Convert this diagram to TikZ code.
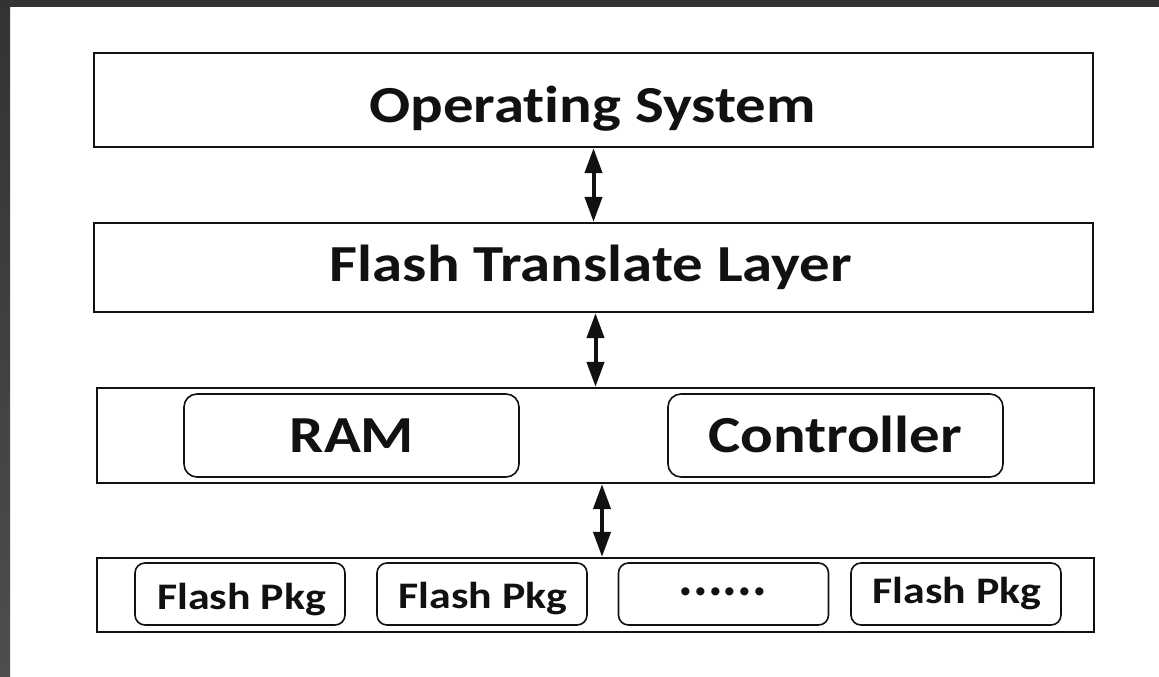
\documentclass[tikz,border=0pt]{standalone}
\usepackage{fontspec}
\setmainfont{Carlito}[Ligatures=NoCommon]
\newfontfamily\widefont{Carlito}[Ligatures=NoCommon, FakeStretch=1.17]
\usetikzlibrary{arrows.meta}
\definecolor{frame}{HTML}{333333}
\definecolor{framelow}{HTML}{4E4E4E}
\definecolor{ink}{HTML}{111111}
\begin{document}
\begin{tikzpicture}[x=1bp,y=-1bp,
  layer/.style={draw=ink, line width=2.2bp, inner sep=0pt},
  part/.style={draw=ink, line width=1.6bp, rounded corners=13bp, inner sep=0pt, minimum width=335bp, minimum height=83bp},
  pkg/.style={draw=ink, line width=1.6bp, rounded corners=10bp, inner sep=0pt, minimum width=210bp, minimum height=62bp},
  big/.style={font=\widefont\bfseries\fontsize{52bp}{60bp}\selectfont, anchor=base, inner sep=0pt, text=ink},
  small/.style={font=\widefont\bfseries\fontsize{37.5bp}{44bp}\selectfont, anchor=base, inner sep=0pt, text=ink},
  dots/.style={font=\bfseries\fontsize{55bp}{60bp}\selectfont, anchor=base, inner sep=0pt, text=ink},
  link/.style={draw=ink, line width=4bp, {Triangle[length=25bp,width=17bp]}-{Triangle[length=25bp,width=17bp]}}
]
\useasboundingbox (0,0) rectangle (1159,677);
\fill[white] (0,0) rectangle (1159,677);
\shade[top color=frame, bottom color=framelow] (0,0) rectangle (10,677);
\fill[frame] (0,0) rectangle (1159,7);

% layers
\node[layer, minimum width=999bp, minimum height=94bp] (os) at (593.5,100) {};
\node[big] (ost) at (592.5,123) {Operating System};

\node[layer, minimum width=999bp, minimum height=89bp] (ftl) at (593.5,267.5) {};
\node[big] (ftlt) at (591,281) {Flash Translate Layer};

\node[layer, minimum width=997bp, minimum height=95bp] (mid) at (595.5,435.5) {};
\node[part] (ram) at (351.5,435.5) {};
\node[big] (ramt) at (352,452) {RAM};
\node[part] (ctl) at (835.5,435.5) {};
\node[big] (ctlt) at (835,452) {Controller};

\node[layer, minimum width=997bp, minimum height=74bp] (flash) at (595.5,595) {};
\node[pkg] (p1) at (240,594) {};
\node[small] (p1t) at (241.5,609) {Flash Pkg};
\node[pkg] (p2) at (482,594) {};
\node[small] (p2t) at (483,608) {Flash Pkg};
\node[pkg] (p3) at (723.5,594) {};
\node[dots] (p3t) at (723,595.5) {......};
\node[pkg] (p4) at (956,594) {};
\node[small] (p4t) at (957,603) {Flash Pkg};

% connectors
\draw[link] (os.south) -- (ftl.north);
\draw[link] (mid.north |- ftl.south) -- (mid.north);
\coordinate (a3) at ([xshift=6.5bp]mid.south);
\draw[link] (a3) -- (a3 |- flash.north);
\end{tikzpicture}
\end{document}
